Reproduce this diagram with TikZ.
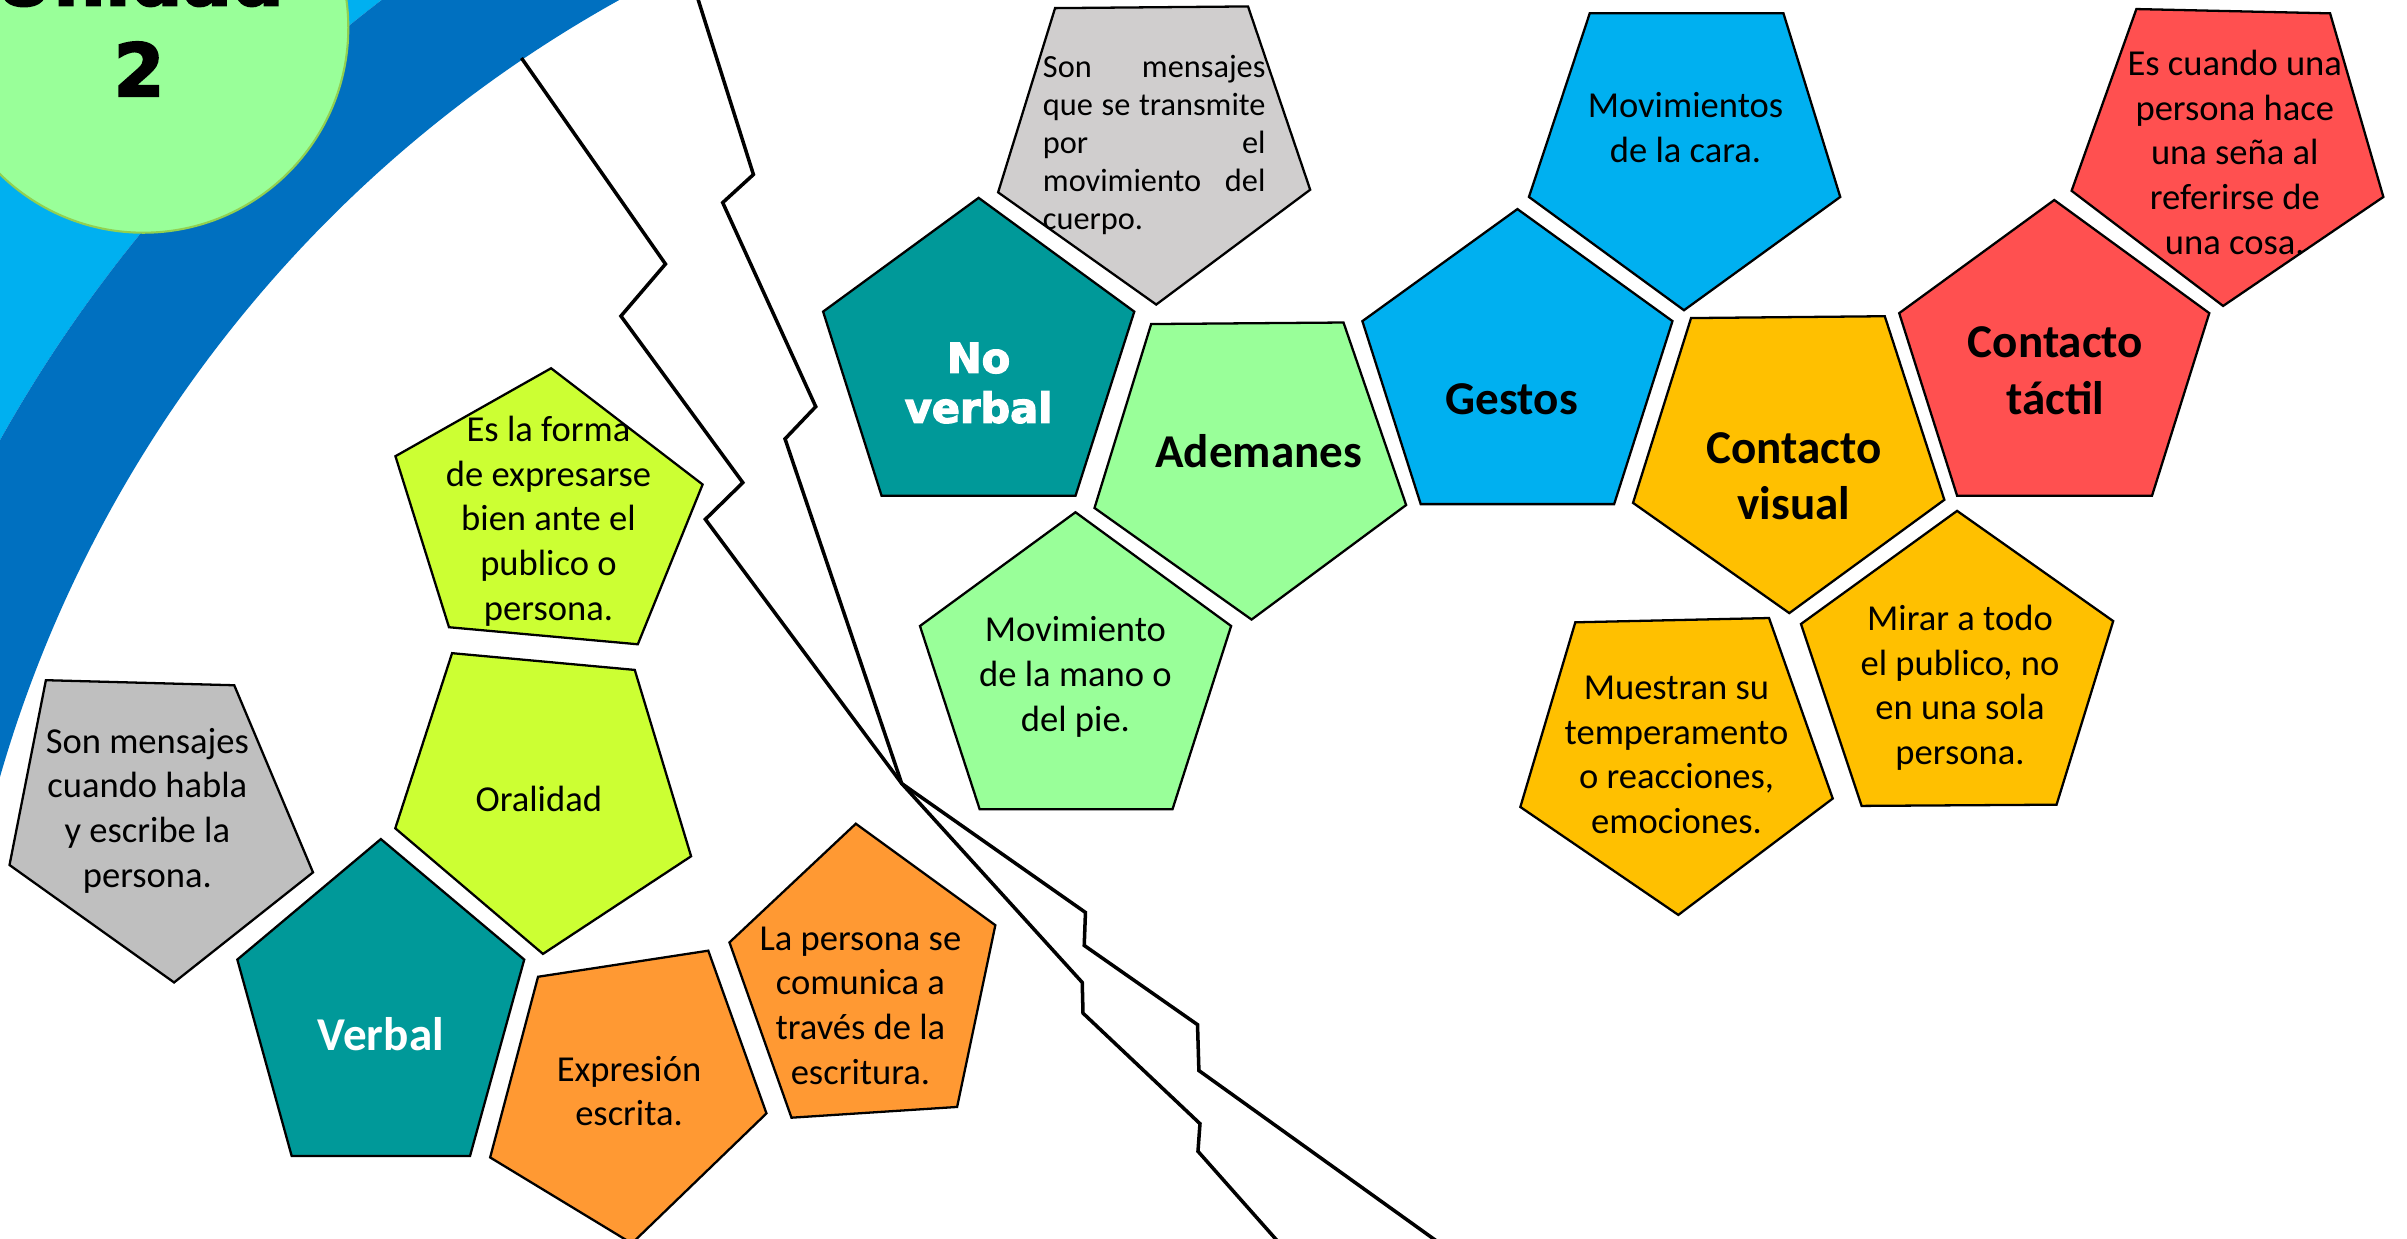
\documentclass[tikz,border=0pt]{standalone}
\usepackage{fontspec}
\setmainfont{Carlito}
\newfontfamily\heavyfont{DejaVu Sans}[BoldFeatures={FakeBold=3}]
\definecolor{cLightBlue}{RGB}{0,176,240}
\definecolor{cDarkBlue}{RGB}{0,112,192}
\definecolor{cMint}{RGB}{153,255,153}
\definecolor{cRim}{RGB}{146,208,80}
\definecolor{cTeal}{RGB}{0,153,153}
\definecolor{cLime}{RGB}{204,255,51}
\definecolor{cSilver}{RGB}{208,206,206}
\definecolor{cGrey}{RGB}{191,191,191}
\definecolor{cOrange}{RGB}{255,153,51}
\definecolor{cSky}{RGB}{0,176,240}
\definecolor{cGold}{RGB}{255,192,0}
\definecolor{cCoral}{RGB}{255,80,80}

\begin{document}
\begin{tikzpicture}[x=0.01535cm,y=-0.01535cm,
    pent/.style={draw=black,line width=0.65pt},
    crack/.style={draw=black,line width=1pt},
    txt/.style={inner sep=0pt,align=center,font=\fontsize{10.4}{12.7}\selectfont},
    hd/.style={inner sep=0pt,align=center,font=\fontsize{13.4}{16}\selectfont\bfseries},
    heavy/.style={inner sep=0pt,align=center,text=white,font=\heavyfont\bfseries\fontsize{11.8}{14.2}\selectfont}]
        \useasboundingbox(0,0)rectangle(1568,807);
        \clip(0,0)rectangle(1568,807);
        \fill[white](0,0)rectangle(1568,807);
        \begin{scope}
            \clip(0,0)rectangle(814,807);
            \fill[cLightBlue,even odd rule](814,741)circle(1200)(814,741)circle(932);
            \fill[cDarkBlue,even odd rule](814,741)circle(932)(814,741)circle(847);
        \end{scope}
        \draw[fill=cMint,draw=cRim,line width=0.6pt](93.4,18.1)circle(133.5);
        \node[inner sep=0pt,align=center,font=\heavyfont\bfseries\fontsize{20.7}{25.8}\selectfont](unidad)at(90.6,15){Unidad\\2};

        \draw[crack](339.7,37.8)--(433.5,172)--(404.5,205.9)--(483.9,314.4)--(459.5,338.3)--(587.4,510.4)--(707.1,594.4)--(706.3,615.9)--(780.1,667.5)--(781,697.4)--(945,815);
        \draw[crack](453.3,-5)--(490.8,113.7)--(470.8,132)--(531.4,264.9)--(511.4,285.9)--(587.4,510.4)--(705,640)--(705.5,660)--(781.7,732)--(780.4,750)--(838,815);

        \draw[pent,fill=cSilver](687.3,5.3)--(813,4.2)--(853.5,123.6)--(753.2,198.4)--(650.2,125.3)--cycle;
        \draw[pent,fill=cTeal](637.5,128.9)--(738.9,203)--(700.6,323)--(574.3,323)--(536.2,203)--cycle;
        \draw[pent,fill=cMint](749.9,211.1)--(875.2,210.1)--(916,329)--(815.3,403.6)--(713,330.9)--cycle;
        \draw[pent,fill=cMint](700.6,333.7)--(802,407.8)--(763.8,527.2)--(638.2,527.2)--(599.3,407.8)--cycle;
        \draw[pent,fill=cSky](988.5,136.2)--(1089.5,209.2)--(1051.5,328.4)--(925.5,328.4)--(887.5,209.2)--cycle;
        \draw[pent,fill=cSky](1035.6,8.7)--(1161.8,8.7)--(1198.8,128.3)--(1097,202.1)--(996,128.3)--cycle;
        \draw[pent,fill=cGold](1101.6,207.2)--(1227.8,206)--(1266.6,325.6)--(1165.6,399.4)--(1063.8,327.6)--cycle;
        \draw[pent,fill=cCoral](1338.2,130.3)--(1439.2,204)--(1401.9,322.9)--(1274.9,322.9)--(1237.2,204)--cycle;
        \draw[pent,fill=cCoral](1391.7,5.9)--(1517.9,8.7)--(1552.6,128.3)--(1448.2,199.3)--(1349.5,124.3)--cycle;
        \draw[pent,fill=cGold](1274.9,332.8)--(1376.6,404.6)--(1339.7,524.2)--(1212.7,525)--(1173.2,406.5)--cycle;
        \draw[pent,fill=cGold](1026.2,405.4)--(1152.4,402.6)--(1193.9,520.2)--(1093.3,596)--(990.4,525.7)--cycle;
        \draw[pent,fill=cLime](359,239.9)--(457.7,315.6)--(415.5,419.7)--(292.5,408.6)--(257.6,297.2)--cycle;
        \draw[pent,fill=cLime](294.5,425.5)--(413.5,436.4)--(450.2,557.8)--(353.7,621.4)--(257.5,539.6)--cycle;
        \draw[pent,fill=cGrey](29.9,443.1)--(152.6,446.4)--(203.9,568.3)--(113.4,640)--(6.2,563.5)--cycle;
        \draw[pent,fill=cTeal](248.1,546.6)--(341.5,625.1)--(306.2,753)--(190,753)--(154.6,625.1)--cycle;
        \draw[pent,fill=cOrange](350.5,636.3)--(461.4,619.3)--(499.3,725.3)--(411.6,810)--(319.3,754)--cycle;
        \draw[pent,fill=cOrange](557.5,536.6)--(648.4,602.7)--(623.5,721.1)--(515.6,728.1)--(475.2,613.9)--cycle;

        \node[txt,align=left,text width=2.226cm,font=\fontsize{9.2}{10.8}\selectfont](sonmov)at(751.9,94.4){Son\hfill mensajes\\que\hfill se\hfill transmite\\por\hfill el\\movimiento\hfill del\\cuerpo.};
        \node[heavy](noverbal)at(637.5,249.5){No\\verbal};
        \node[hd,anchor=base](ademanes)at(820,304.4){Ademanes};
        \node[txt](movmano)at(700.6,441){Movimiento\\de la mano o\\del pie.};
        \node[hd,anchor=base](gestos)at(984.8,270.1){Gestos};
        \node[txt](movcara)at(1098,82.9){Movimientos\\de la cara.};
        \node[hd](cvisual)at(1168.6,310){Contacto\\visual};
        \node[hd](ctactil)at(1339,241.5){Contacto\\táctil};
        \node[txt](escuando)at(1455.8,99.3){Es cuando una\\persona hace\\una seña al\\referirse de\\una cosa.};
        \node[txt](mirar)at(1276.8,448){Mirar a todo\\el publico, no\\en una sola\\persona.};
        \node[txt](muestran)at(1092.1,491.8){Muestran su\\temperamento\\o reacciones,\\emociones.};
        \node[txt](esforma)at(357.3,339.5){Es la forma\\de expresarse\\bien ante el\\publico o\\persona.};
        \node[txt,anchor=base](oralidad)at(351,528.6){Oralidad};
        \node[txt](sonhabla)at(96,528.1){Son mensajes\\cuando habla\\y escribe la\\persona.};
        \node[hd,anchor=base,text=white](verbal)at(248.1,684.2){Verbal};
        \node[txt](expresion)at(409.8,710.8){Expresión\\escrita.};
        \node[txt](lapersona)at(560.5,655){La persona se\\comunica a\\través de la\\escritura.};
    \end{tikzpicture}
\end{document}
